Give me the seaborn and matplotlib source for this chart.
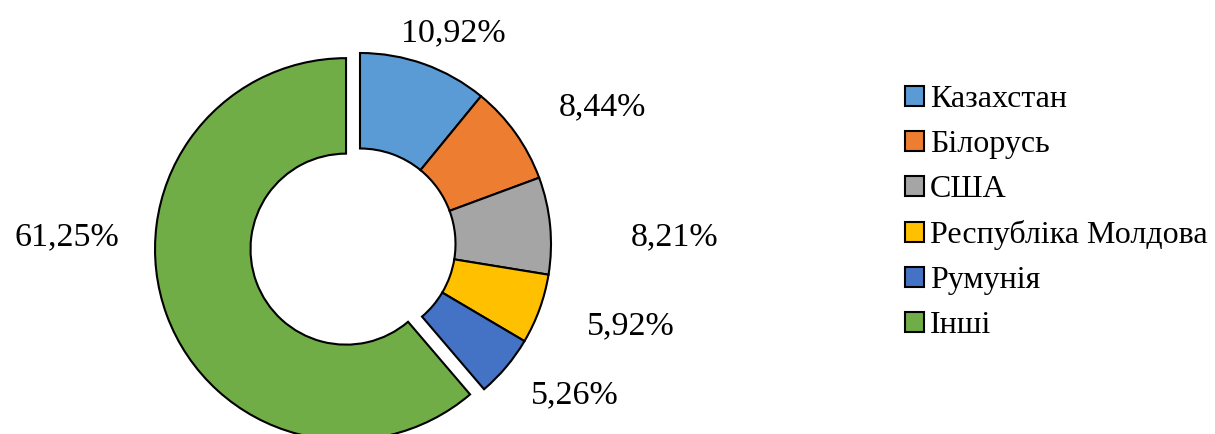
import matplotlib
matplotlib.use("Agg")
import matplotlib.pyplot as plt
import seaborn as sns

# ---- data ----
categories = ["Казахстан", "Білорусь", "США", "Республіка Молдова", "Румунія", "Інші"]
shares = [10.92, 8.44, 8.21, 5.92, 5.26, 61.25]
label_texts = ["10,92%", "8,44%", "8,21%", "5,92%", "5,26%", "61,25%"]
colors = ["#5B9BD5", "#ED7D31", "#A5A5A5", "#FFC000", "#4472C4", "#70AD47"]
explode = [0, 0, 0, 0, 0, 0.078]

# label anchor positions (layout, in units of the outer radius)
label_pos = [(0.487, 1.105), (1.267, 0.717), (1.649, 0.037),
             (1.419, -0.429), (1.126, -0.791), (-1.534, 0.037)]

sns.set_theme(style="white")
plt.rcParams["font.family"] = ["Liberation Serif", "DejaVu Serif"]
plt.rcParams["text.color"] = "black"

W, H = 1215, 434
fig = plt.figure(figsize=(W / 100, H / 100), dpi=100)

R_px = 191.0
cx, cy = 360.0, 244.0   # pixel centre (from top)
L = 1.3
half = R_px * L
ax = fig.add_axes([(cx - half) / W, ((H - cy) - half) / H, 2 * half / W, 2 * half / H])

wedges, _ = ax.pie(shares, colors=colors, explode=explode, startangle=90,
                   counterclock=False, radius=1.0,
                   wedgeprops=dict(width=0.5, edgecolor="black", linewidth=1.5))
ax.set_xlim(-L, L)
ax.set_ylim(-L, L)
ax.set_aspect("equal")
ax.axis("off")

for txt, (x, y) in zip(label_texts, label_pos):
    ax.text(x, y, txt, ha="center", va="center", fontsize=24.5, color="black")

fig.legend(wedges, categories, loc="upper left",
           bbox_to_anchor=(905 / W, 1 - 85 / H), frameon=False,
           fontsize=23, handlelength=0.58, handleheight=0.58, labelcolor="black",
           handletextpad=0.2, labelspacing=0.5, borderpad=0, borderaxespad=0)

fig.savefig("out.png", dpi=100)
